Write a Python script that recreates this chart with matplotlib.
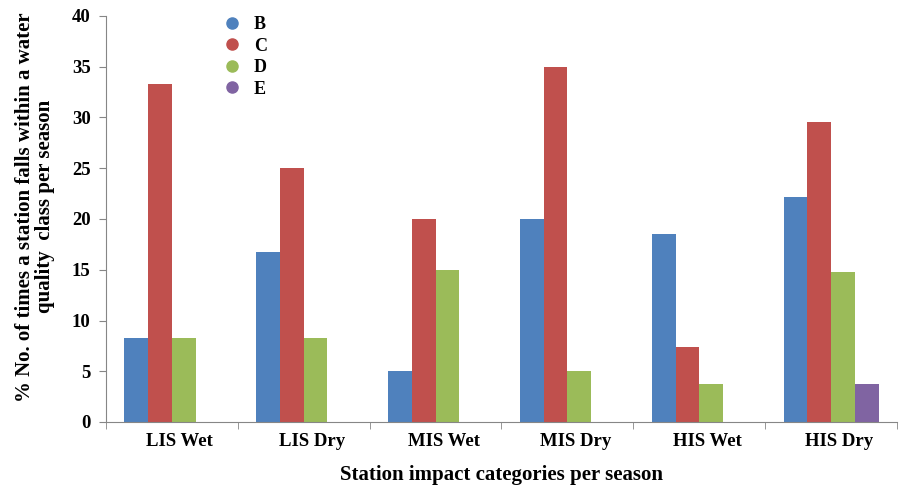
import numpy as np
import matplotlib.pyplot as plt
import matplotlib.transforms as mtransforms
from matplotlib.lines import Line2D

categories = ["LIS Wet", "LIS Dry", "MIS Wet", "MIS Dry", "HIS Wet", "HIS Dry"]
series_names = ["B", "C", "D", "E"]
B = [8.3, 16.7, 5.0, 20.0, 18.5, 22.2]
C = [33.3, 25.0, 20.0, 35.0, 7.4, 29.6]
D = [8.3, 8.3, 15.0, 5.0, 3.7, 14.8]
E = [0, 0, 0, 0, 0, 3.7]
colors = ["#4f81bd", "#c0504d", "#9bbb59", "#8064a2"]

plt.rcParams['font.family'] = ['Liberation Serif', 'DejaVu Serif']
plt.rcParams['font.weight'] = 'bold'

fig = plt.figure(figsize=(9.01, 4.87), dpi=100)
ax = fig.add_axes([106/901, 65/487, 791/901, 406/487])

x = np.arange(len(categories))
w = 0.18
for i, (vals, c) in enumerate(zip([B, C, D, E], colors)):
    ax.bar(x + (i - 1.5) * w, vals, width=w, color=c, label=series_names[i])

ax.set_xlim(-0.5, len(categories) - 0.5)
ax.set_ylim(0, 40)
ax.set_yticks(range(0, 41, 5))
ax.set_xticks(x)
ax.set_xticklabels(categories, fontsize=13.5, fontweight='bold')
ax.set_xticks(np.arange(-0.5, len(categories)), minor=True)
ax.tick_params(axis='x', which='major', length=0, pad=8)
ax.tick_params(axis='x', which='minor', length=5, color='#868686', direction='out')
ax.tick_params(axis='y', length=5, color='#868686', labelsize=13.5, pad=6)
for lbl in ax.get_yticklabels():
    lbl.set_fontweight('bold')
# category labels sit a little right of the group centres
shift = mtransforms.ScaledTranslation(8/100, 0, fig.dpi_scale_trans)
for lbl in ax.get_xticklabels():
    lbl.set_transform(lbl.get_transform() + shift)

for s in ['top', 'right']:
    ax.spines[s].set_visible(False)
for s in ['left', 'bottom']:
    ax.spines[s].set_color('#868686')

ax.set_xlabel("Station impact categories per season", fontsize=15, fontweight='bold', labelpad=11)
ax.set_ylabel("% No. of times a station falls within a water\nquality  class per season",
              fontsize=15, fontweight='bold', linespacing=1.0)
ax.yaxis.set_label_coords(-0.064, 0.53)

handles = [Line2D([0], [0], marker='o', linestyle='', markersize=8,
                  markerfacecolor=c, markeredgecolor=c) for c in colors]
ax.legend(handles, series_names, loc='upper left', bbox_to_anchor=(0.116, 1.04),
          frameon=False, handletextpad=0.2, labelspacing=0.25,
          prop={'weight': 'bold', 'size': 13})

fig.savefig("out.png", dpi=100)
